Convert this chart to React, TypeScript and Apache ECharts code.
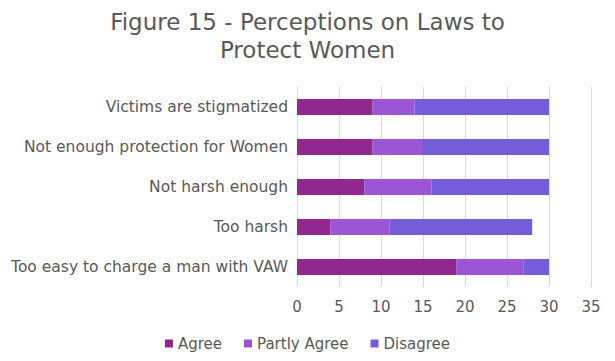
import React, { useEffect, useRef } from "react";
import * as echarts from "echarts";

const categories = [
  "Too easy to charge a man with VAW",
  "Too harsh",
  "Not harsh enough",
  "Not enough protection for Women",
  "Victims are stigmatized",
];
const agree = [19, 4, 8, 9, 9];
const partlyAgree = [8, 7, 8, 6, 5];
const disagree = [3, 17, 14, 15, 16];
const seriesNames = ["Agree", "Partly Agree", "Disagree"];
const colors = ["#92278F", "#9B57D3", "#755DD9"];
const FONT = "'DejaVu Sans', sans-serif";

export default function App() {
  const ref = useRef<HTMLDivElement>(null);
  useEffect(() => {
    if (!ref.current) return;
    const chart = echarts.init(ref.current, undefined, { renderer: "svg" });
    const data = [agree, partlyAgree, disagree];
    chart.setOption({
      animation: false,
      color: colors,
      title: {
        text: "Figure 15 - Perceptions on Laws to\nProtect Women",
        left: "center",
        top: 3,
        textStyle: {
          fontFamily: FONT,
          fontSize: 23,
          fontWeight: "normal",
          color: "#595959",
          lineHeight: 28,
        },
      },
      legend: {
        bottom: 5,
        left: "center",
        itemWidth: 8,
        itemHeight: 8,
        itemGap: 22,
        icon: "rect",
        textStyle: { fontFamily: FONT, fontSize: 15, color: "#595959" },
        data: seriesNames,
      },
      grid: { left: 297, right: 24, top: 87, bottom: 74, containLabel: false },
      xAxis: {
        type: "value",
        min: 0,
        max: 35,
        interval: 5,
        axisLine: { show: false },
        axisTick: { show: false },
        splitLine: { lineStyle: { color: "#d9d9d9", width: 1 } },
        axisLabel: { fontFamily: FONT, fontSize: 15, color: "#595959", margin: 12 },
      },
      yAxis: {
        type: "category",
        data: categories,
        axisLine: { show: false },
        axisTick: { show: false },
        axisLabel: { fontFamily: FONT, fontSize: 15.5, color: "#595959", margin: 9 },
      },
      series: seriesNames.map((name, i) => ({
        name,
        type: "bar",
        stack: "total",
        barWidth: 16,
        data: data[i],
        itemStyle: { color: colors[i] },
      })),
    });
    return () => chart.dispose();
  }, []);
  return <div ref={ref} style={{ width: 615, height: 361, position: "absolute", left: 0, top: 0 }} />;
}
